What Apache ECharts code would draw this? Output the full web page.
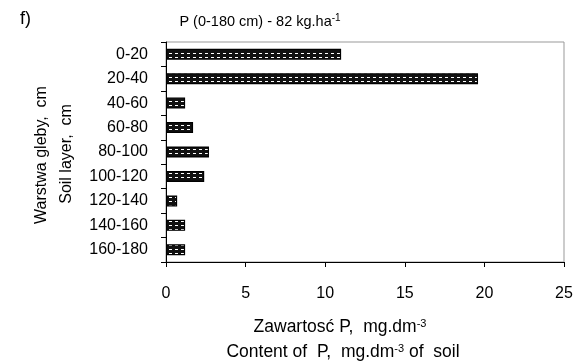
<!DOCTYPE html>
<html>
<head>
<meta charset="utf-8">
<script src="https://cdn.jsdelivr.net/npm/echarts@6/dist/echarts.min.js"></script>
<style>
  html, body { margin: 0; padding: 0; background: #fff; }
  #main { width: 579px; height: 361px; }
</style>
</head>
<body>
<div id="main"></div>
<script>
// soil layers and P content (mg.dm-3)
var layers = ['0-20', '20-40', '40-60', '60-80', '80-100', '100-120', '120-140', '140-160', '160-180'];
var pContent = [11.0, 19.6, 1.2, 1.7, 2.7, 2.4, 0.7, 1.2, 1.2];
var xTicks = [0, 5, 10, 15, 20, 25];

var font = 'Liberation Sans, Arial, sans-serif';

// black bar fill with small white dashes
var tile = document.createElement('canvas');
tile.width = 6;
tile.height = 4;
var ctx = tile.getContext('2d');
ctx.fillStyle = '#111';
ctx.fillRect(0, 0, 6, 4);
ctx.fillStyle = '#fff';
ctx.fillRect(1, 1, 3, 1);

var myChart = echarts.init(document.getElementById('main'));

function richFor(size, supSize) {
  return {
    n: { fontSize: size, fontFamily: font, color: '#000' },
    s: { fontSize: supSize, fontFamily: font, color: '#000', padding: [0, 0, 7, 0] }
  };
}

var option = {
  animation: false,
  grid: {
    left: 166, right: 15, top: 42, bottom: 99,
    show: true, borderColor: '#999', borderWidth: 1
  },
  xAxis: {
    type: 'value',
    min: xTicks[0],
    max: xTicks[xTicks.length - 1],
    interval: 5,
    splitLine: { show: false },
    axisLine: { show: true, lineStyle: { color: '#000', width: 1 } },
    axisTick: { show: true, length: 5, lineStyle: { color: '#000' } },
    axisLabel: { margin: 24, color: '#000', fontSize: 16, fontFamily: font }
  },
  yAxis: {
    type: 'category',
    inverse: true,
    data: layers,
    axisLine: { show: true, lineStyle: { color: '#000', width: 1 } },
    axisTick: { show: true, length: 5, lineStyle: { color: '#000' } },
    axisLabel: { margin: 18, color: '#000', fontSize: 16, fontFamily: font }
  },
  series: [{
    type: 'bar',
    data: pContent,
    barWidth: 11,
    itemStyle: {
      color: { image: tile, repeat: 'repeat' },
      borderColor: '#000',
      borderWidth: 1.2
    }
  }],
  graphic: [
    {
      type: 'text', left: 20, top: 10,
      style: { text: 'f)', font: '18px ' + font, fill: '#000' }
    },
    {
      type: 'text', x: 260, y: 22,
      style: {
        text: '{n|P (0-180 cm) - 82 kg.ha}{s|-1}',
        align: 'center', verticalAlign: 'middle', rich: richFor(14.5, 10)
      }
    },
    {
      type: 'text', x: 340, y: 327,
      style: {
        text: '{n|Zawartosć P,  mg.dm}{s|-3}',
        align: 'center', verticalAlign: 'middle', rich: richFor(17.5, 11)
      }
    },
    {
      type: 'text', x: 343, y: 352,
      style: {
        text: '{n|Content of  P,  mg.dm}{s|-3}{n| of  soil}',
        align: 'center', verticalAlign: 'middle', rich: richFor(17.5, 11)
      }
    },
    {
      type: 'text', x: 42, y: 155, rotation: Math.PI / 2,
      style: {
        text: 'Warstwa gleby,  cm',
        fontSize: 16, fontFamily: font, fill: '#000',
        align: 'center', verticalAlign: 'middle'
      }
    },
    {
      type: 'text', x: 67, y: 154, rotation: Math.PI / 2,
      style: {
        text: 'Soil layer,  cm',
        fontSize: 16, fontFamily: font, fill: '#000',
        align: 'center', verticalAlign: 'middle'
      }
    }
  ]
};

myChart.setOption(option);
</script>
</body>
</html>
